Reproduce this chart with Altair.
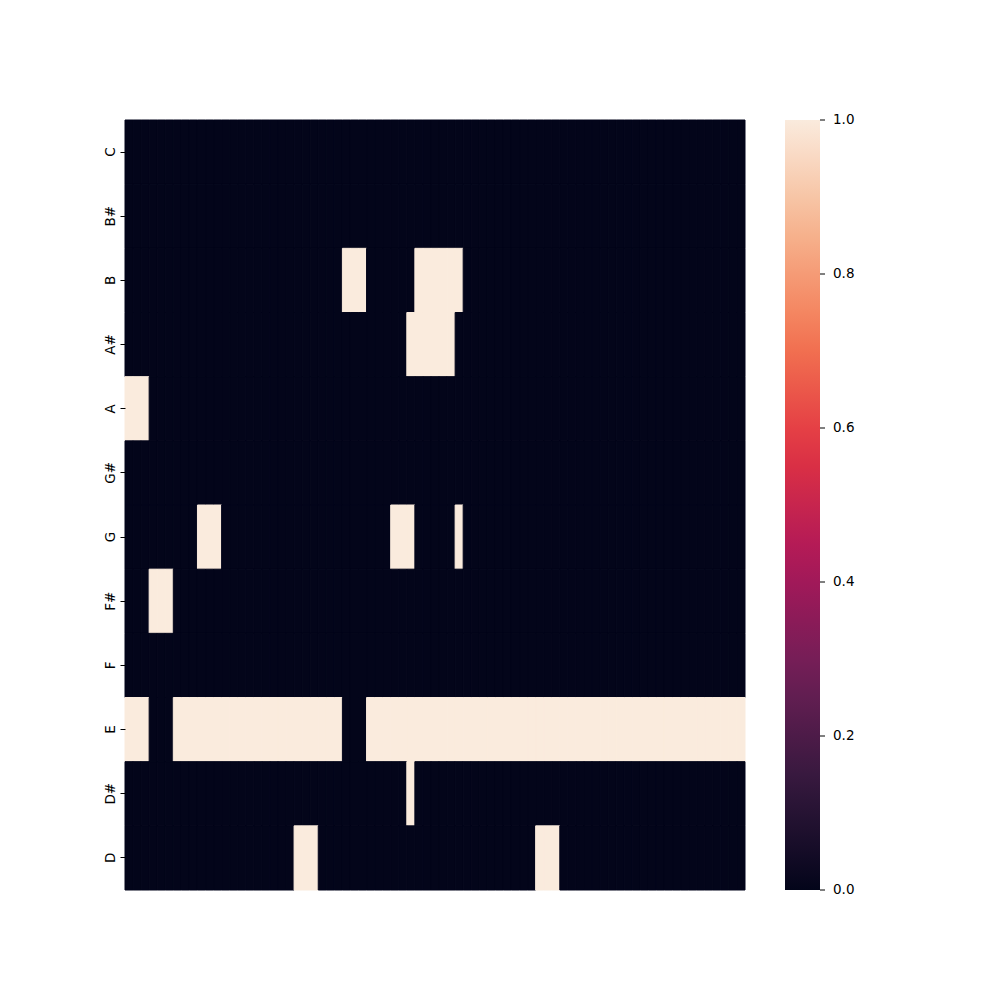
import altair as alt
import pandas as pd

notes = ["C", "B#", "B", "A#", "A", "G#", "G", "F#", "F", "E", "D#", "D"]
n_cols = 77

# active (value 1) column indices per note
active_C = []
active_Bs = []
active_B = [27, 28, 29, 36, 37, 38, 39, 40, 41]
active_As = [35, 36, 37, 38, 39, 40]
active_A = [0, 1, 2]
active_Gs = []
active_G = [9, 10, 11, 33, 34, 35, 41]
active_Fs = [3, 4, 5]
active_F = []
active_E = [0, 1, 2] + list(range(6, 27)) + list(range(30, 77))
active_Ds = [35]
active_D = [21, 22, 23, 51, 52, 53]

active = [active_C, active_Bs, active_B, active_As, active_A, active_Gs,
          active_G, active_Fs, active_F, active_E, active_Ds, active_D]

rocket_stops = ["#03051a", "#35193e", "#701f57", "#ad1759", "#e13342",
                "#f37651", "#f6b48f", "#faebdd"]
legend_values = [0.0, 0.2, 0.4, 0.6, 0.8, 1.0]

rows = []
for note, cols in zip(notes, active):
    s = set(cols)
    for c in range(n_cols):
        rows.append({"note": note, "col": c, "value": 1.0 if c in s else 0.0})
df = pd.DataFrame(rows)
ticks_df = pd.DataFrame({"v": legend_values,
                         "label": [f"{v:.1f}" for v in legend_values]})

font = "DejaVu Sans"

heat = alt.Chart(df).mark_rect(strokeWidth=1).encode(
    x=alt.X("col:O", axis=None, scale=alt.Scale(paddingInner=0, paddingOuter=0)),
    y=alt.Y("note:O", sort=notes, title=None,
            scale=alt.Scale(paddingInner=0, paddingOuter=0),
            axis=alt.Axis(labelAngle=270, labelAlign="center", labelBaseline="bottom",
                          labelFont=font, labelFontSize=13.5, labelColor="black",
                          tickSize=5, tickColor="black", tickWidth=1, labelPadding=3,
                          domain=False, grid=False)),
    stroke=alt.condition("datum.value > 0.5", alt.value("#faebdd"), alt.value("#03051a")),
    color=alt.Color("value:Q",
                    scale=alt.Scale(domain=[0, 1], range=rocket_stops, interpolate="rgb"),
                    legend=alt.Legend(title=None, orient="none", legendX=660, legendY=0,
                                      direction="vertical", gradientLength=770,
                                      gradientThickness=35, gradientStrokeWidth=0,
                                      values=legend_values, labelExpr="''")),
)

cbar_ticks = alt.Chart(ticks_df).mark_rule(color="black", strokeWidth=1).encode(
    x=alt.value(695),
    x2=alt.value(700),
    y=alt.Y("v:Q", scale=alt.Scale(domain=[0, 1]), axis=None),
)

cbar_labels = alt.Chart(ticks_df).mark_text(
    align="left", baseline="middle", font=font, fontSize=13.5, color="black"
).encode(
    x=alt.value(708),
    y=alt.Y("v:Q", scale=alt.Scale(domain=[0, 1]), axis=None),
    text="label:N",
)

chart = alt.layer(heat, cbar_ticks, cbar_labels).resolve_scale(y="independent").properties(
    width=620, height=770,
    autosize=alt.AutoSizeParams(type="none"),
    padding={"left": 125, "top": 120, "right": 255, "bottom": 110},
    background="white",
).configure_view(stroke=None)

chart.save("out.html", embed_options={"renderer": "svg", "actions": False})
